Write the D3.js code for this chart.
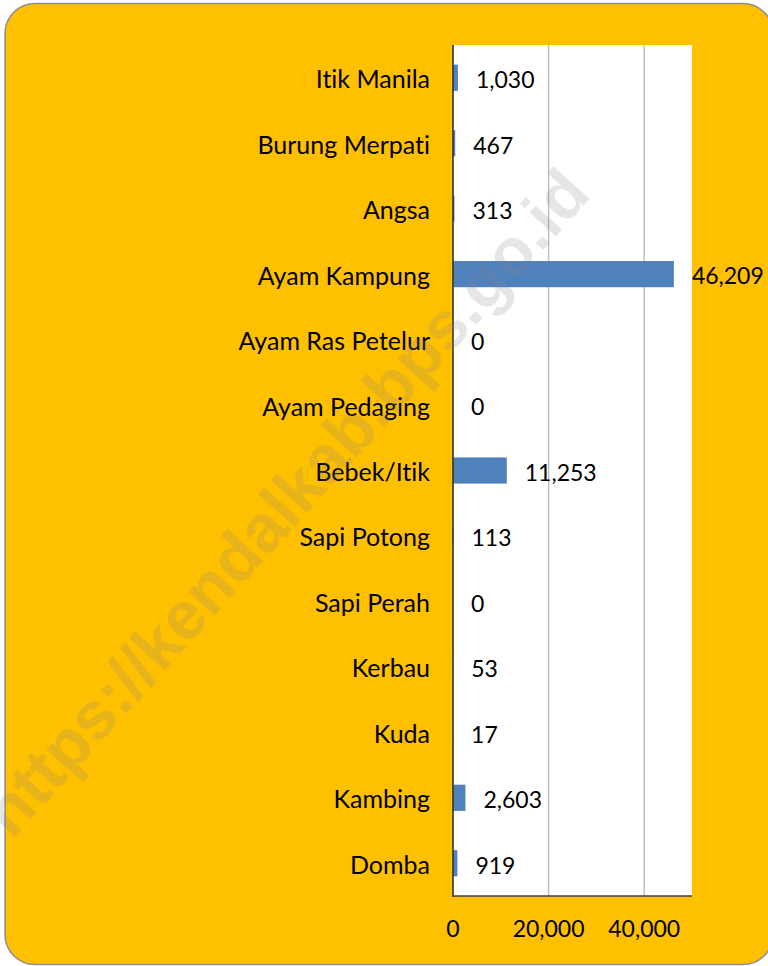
<!DOCTYPE html>
<html><head><meta charset="utf-8">
<script src="https://cdn.jsdelivr.net/npm/d3@7"></script>
<style>html,body{margin:0;padding:0;background:#fff;}svg{display:block;}text{font-variant-ligatures:none;font-feature-settings:"liga" 0;}</style>
</head><body>
<svg id="chart" width="768" height="966"></svg>
<script>
const categories = ["Itik Manila","Burung Merpati","Angsa","Ayam Kampung","Ayam Ras Petelur","Ayam Pedaging","Bebek/Itik","Sapi Potong","Sapi Perah","Kerbau","Kuda","Kambing","Domba"];
const values = [1030,467,313,46209,0,0,11253,113,0,53,17,2603,919];
const tickValues = [0,20000,40000];
const watermark = "https://kendalkab.bps.go.id";

const svg = d3.select("#chart");
const font = "Lato, 'Open Sans', sans-serif";

svg.append("rect").attr("x",5).attr("y",3.5).attr("width",768).attr("height",961)
  .attr("rx",30).attr("ry",30).attr("fill","#FFC000").attr("stroke","#8f8f8f").attr("stroke-width",1.5);

const L=453, R=692, T=45, B=896;
const x = d3.scaleLinear().domain([0,50000]).range([L,R]);
const y = d3.scaleBand().domain(categories).range([T,B]).paddingInner(0.6).paddingOuter(0.3);

svg.append("rect").attr("x",L).attr("y",T).attr("width",R-L).attr("height",B-T).attr("fill","#fff");

svg.append("g").selectAll("line").data(tickValues.filter(d=>d>0)).join("line")
  .attr("x1",d=>x(d)).attr("x2",d=>x(d)).attr("y1",T).attr("y2",B)
  .attr("stroke","#c0c0c0").attr("stroke-width",1.5);

svg.append("g").selectAll("rect").data(categories).join("rect")
  .attr("x",x(0)).attr("y",d=>y(d)).attr("height",y.bandwidth())
  .attr("width",(d,i)=>x(values[i])-x(0)).attr("fill","#4F81BD");

svg.append("line").attr("x1",L).attr("x2",L).attr("y1",T).attr("y2",B+1).attr("stroke","#333").attr("stroke-width",1.6);
svg.append("line").attr("x1",L).attr("x2",R).attr("y1",B).attr("y2",B).attr("stroke","#404040").attr("stroke-width",1.5);

const cx = d=>y(d)+y.bandwidth()/2;
svg.append("g").selectAll("text").data(categories).join("text")
  .attr("x",430).attr("y",d=>cx(d)).attr("dy","0.42em").attr("text-anchor","end")
  .attr("font-family",font).attr("font-size",25).attr("fill","#000").text(d=>d);

const fmt = d3.format(",");
svg.append("g").selectAll("text").data(categories).join("text")
  .attr("x",(d,i)=>x(values[i])+18).attr("y",d=>cx(d)).attr("dy","0.45em")
  .attr("font-family",font).attr("font-size",23).attr("fill","#000").text((d,i)=>fmt(values[i]));

svg.append("g").selectAll("text").data(tickValues).join("text")
  .attr("x",d=>x(d)).attr("y",937).attr("text-anchor","middle")
  .attr("font-family",font).attr("font-size",23).attr("fill","#000").text(d=>fmt(d));

svg.append("text").attr("transform","translate(285,502) rotate(-48)")
  .attr("text-anchor","middle").attr("dy","0.35em")
  .attr("font-family","'Liberation Sans', Arial, sans-serif").attr("font-weight","bold")
  .attr("font-size",67).attr("fill","#808080").attr("fill-opacity",0.2).text(watermark);
</script>
</body></html>
